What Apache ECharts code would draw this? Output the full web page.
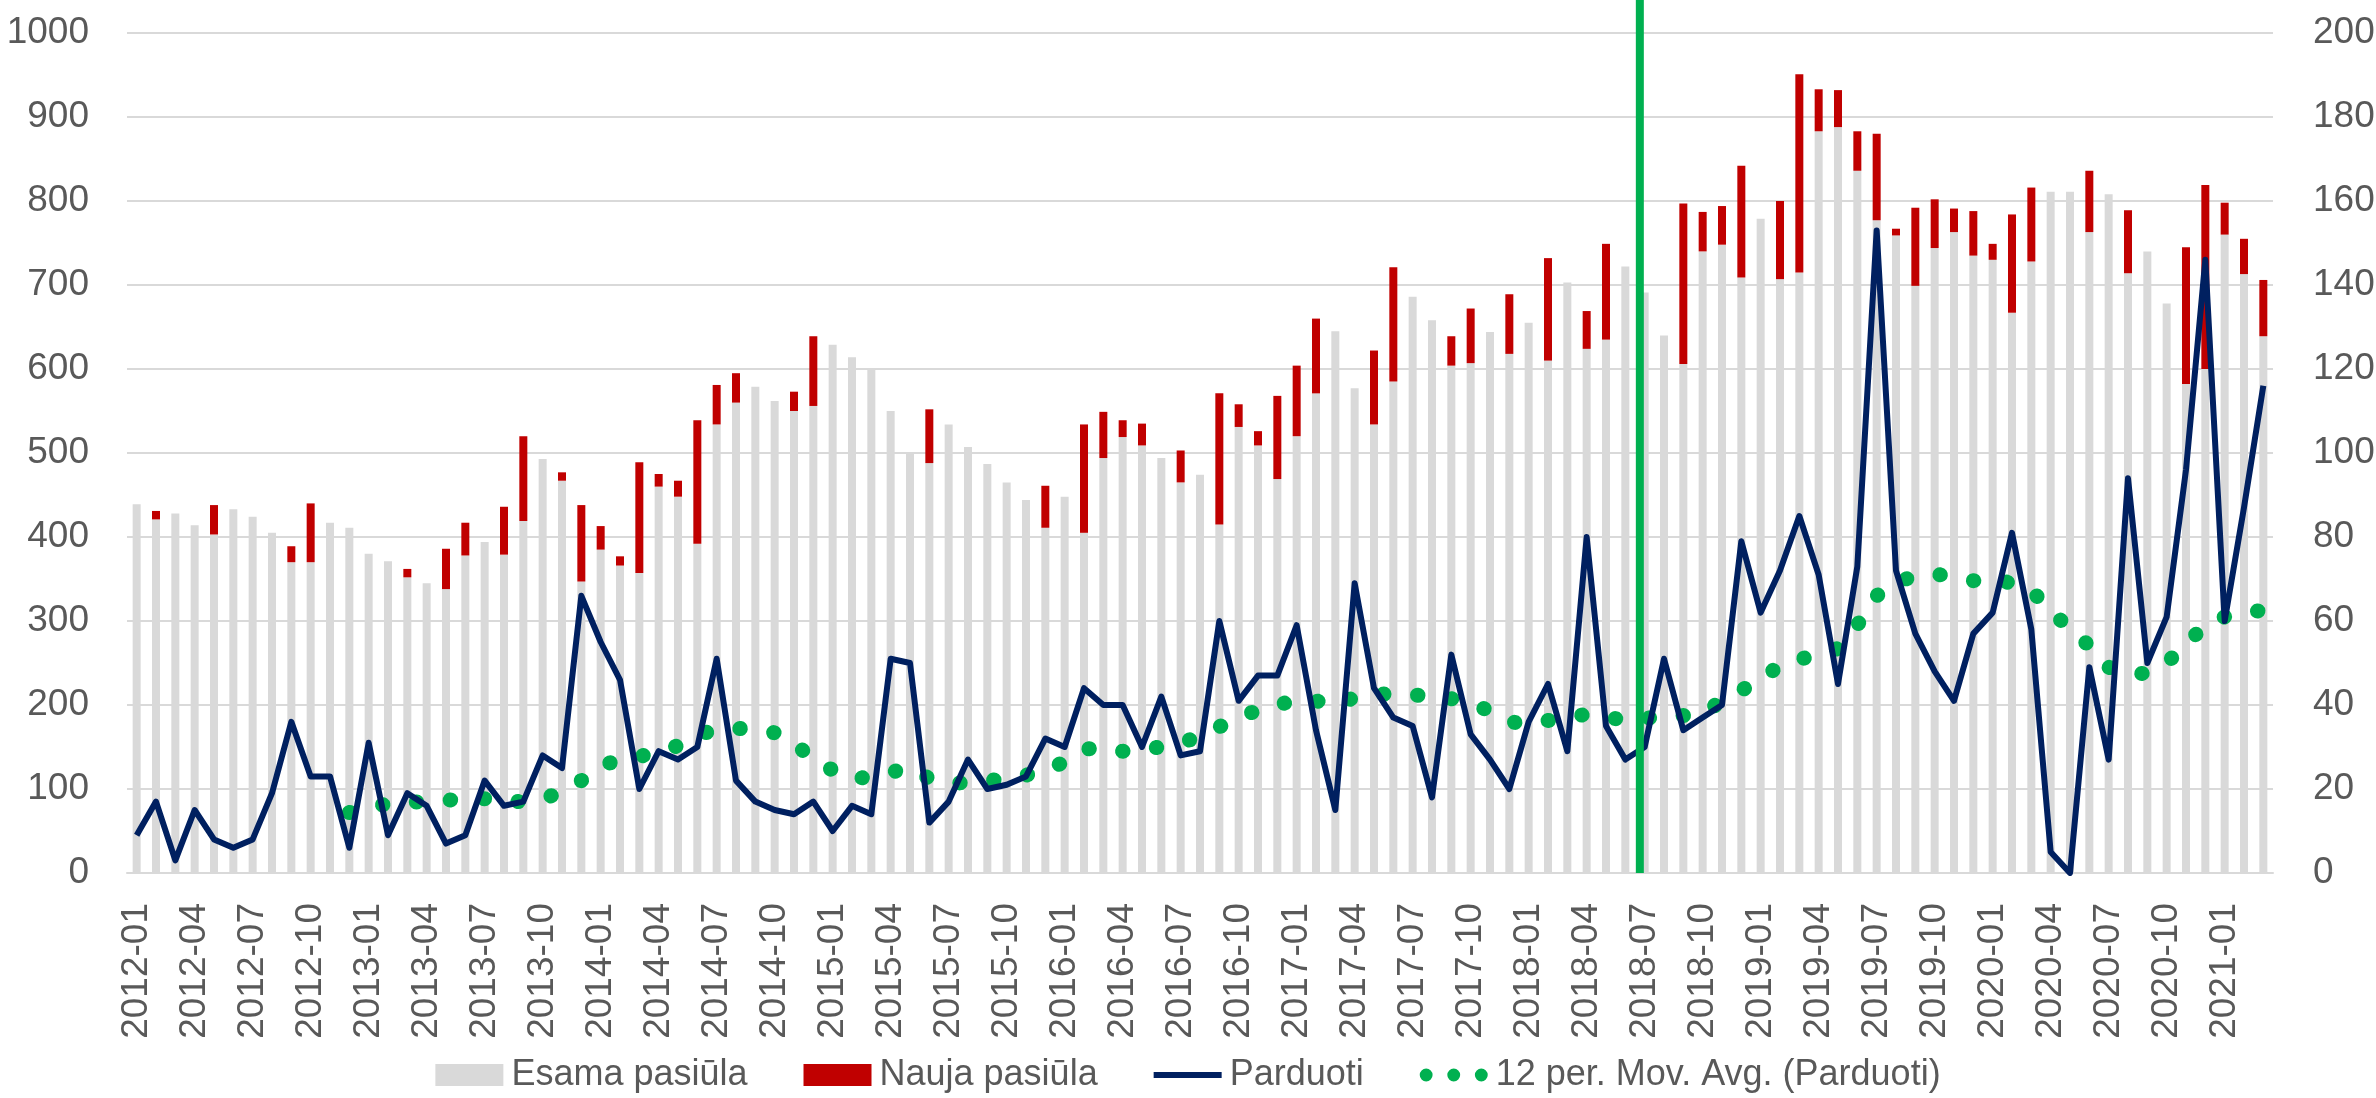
<!DOCTYPE html>
<html>
<head>
<meta charset="utf-8">
<script src="https://cdn.jsdelivr.net/npm/echarts@6/dist/echarts.min.js"></script>
<style>
html,body{margin:0;padding:0;background:#fff;}
#chart{width:2376px;height:1098px;}
</style>
</head>
<body>
<div id="chart"></div>
<script>
var months = [
	'2012-01','2012-02','2012-03','2012-04','2012-05','2012-06','2012-07','2012-08','2012-09','2012-10','2012-11','2012-12',
	'2013-01','2013-02','2013-03','2013-04','2013-05','2013-06','2013-07','2013-08','2013-09','2013-10','2013-11','2013-12',
	'2014-01','2014-02','2014-03','2014-04','2014-05','2014-06','2014-07','2014-08','2014-09','2014-10','2014-11','2014-12',
	'2015-01','2015-02','2015-03','2015-04','2015-05','2015-06','2015-07','2015-08','2015-09','2015-10','2015-11','2015-12',
	'2016-01','2016-02','2016-03','2016-04','2016-05','2016-06','2016-07','2016-08','2016-09','2016-10','2016-11','2016-12',
	'2017-01','2017-02','2017-03','2017-04','2017-05','2017-06','2017-07','2017-08','2017-09','2017-10','2017-11','2017-12',
	'2018-01','2018-02','2018-03','2018-04','2018-05','2018-06','2018-07','2018-08','2018-09','2018-10','2018-11','2018-12',
	'2019-01','2019-02','2019-03','2019-04','2019-05','2019-06','2019-07','2019-08','2019-09','2019-10','2019-11','2019-12',
	'2020-01','2020-02','2020-03','2020-04','2020-05','2020-06','2020-07','2020-08','2020-09','2020-10','2020-11','2020-12',
	'2021-01','2021-02','2021-03'
];

// esama pasiula (pilka)
var esama = [
	439,421,428,414,403,433,424,405,370,370,417,411,
	380,371,352,345,338,378,394,379,419,493,467,347,
	385,366,357,460,448,392,534,560,579,562,550,556,
	629,614,600,550,499,488,534,507,487,465,444,411,
	448,405,494,519,509,494,465,474,415,531,509,469,
	520,571,645,577,534,585,686,658,604,607,644,618,
	655,610,703,624,635,722,691,640,606,740,748,709,
	779,707,715,883,888,836,777,759,699,744,763,735,
	730,667,728,811,811,763,808,714,740,678,582,600,
	760,713,639
];

// nauja pasiula (raudona)
var nauja = [
	0,10,0,0,35,0,0,0,19,70,0,0,
	0,0,10,0,48,39,0,57,101,0,10,91,
	28,11,132,15,19,147,47,35,0,0,23,83,
	0,0,0,0,0,64,0,0,0,0,0,50,
	0,129,55,20,26,0,38,0,156,27,17,99,
	84,89,0,0,88,136,0,0,35,65,0,71,
	0,122,0,45,114,0,0,0,191,47,46,133,
	0,93,236,50,44,47,103,8,93,58,28,53,
	19,117,88,0,0,73,0,75,0,0,163,219,
	38,42,67
];

var parduoti = [
	9,17,3,15,8,6,8,19,36,23,23,6,
	31,9,19,16,7,9,22,16,17,28,25,66,
	55,46,20,29,27,30,51,22,17,15,14,17,
	10,16,14,51,50,12,17,27,20,21,23,32,
	30,44,40,40,30,42,28,29,60,41,47,47,
	59,34,15,69,44,37,35,18,52,33,27,20,
	36,45,29,80,35,27,30,51,34,37,40,79,
	62,72,85,71,45,73,153,72,57,48,41,57,
	62,81,58,5,0,49,27,94,50,61,96,146,
	60,87,116
];

// 12 men. slenkamasis vidurkis, nuskaitytas nuo grafiko
var slenkVid = [
	null,null,null,null,null,null,null,null,null,null,null,14.4,
	15.5,16.5,16.9,16.9,17.3,17.7,17.7,17.6,16.8,17.5,19.5,22,
	25.5,27,27.7,29,30.3,33,34,34.5,34,33.4,31,27,
	24.5,22.3,23,24,25,22.5,21.4,21.5,22,22.4,23.3,24.3,
	26.5,29.5,29.8,29,29.2,30.1,31,32.5,34.8,37,38.8,40,
	41.2,41,40,41.8,42.6,42.6,42.4,42.1,41.5,40.3,38.6,36,
	35.5,36.3,37,37.8,37,36.5,36.8,37.3,37.5,38,41,43.5,
	46,49.5,51,51.7,53.5,59,66,69.5,70.5,71.2,70.5,69.6,
	70,69,67.5,62,58.5,54,49,47.2,47.6,50,54.5,59,
	61,62.1,62.5
];

// zalia linija tarp 2018-06 ir 2018-07 (arciau 2018-07)
var markPrev = '2018-06';
var markMonth = '2018-07';

var fontFam = '"Liberation Sans",Arial,sans-serif';
var axisSize = 37;
var legSize = 36;
var txtColor = '#595959';

// legendos ikonos
var lineIcon = 'path://M0,0H68V6H0Z';
var dotsIcon = 'path://M0,7a7,7 0 1,0 14,0a7,7 0 1,0 -14,0Z' +
	'M30,7a7,7 0 1,0 14,0a7,7 0 1,0 -14,0Z' +
	'M60,7a7,7 0 1,0 14,0a7,7 0 1,0 -14,0Z';

var myChart = echarts.init(document.getElementById('chart'));

var option = {
	animation: false,
	backgroundColor: '#fff',
	textStyle: { fontFamily: fontFam },
	grid: { left: 127, right: 103, top: 33, bottom: 225, outerBoundsMode: 'none' },
	legend: {
		bottom: 0,
		left: 'center',
		itemWidth: 68,
		itemHeight: 22,
		itemGap: 56,
		textStyle: { fontSize: legSize, color: txtColor, fontFamily: fontFam, padding: [0, 0, 0, 3] },
		data: [
			{ name: 'Esama pasiūla', icon: 'rect' },
			{ name: 'Nauja pasiūla', icon: 'rect' },
			{ name: 'Parduoti', icon: lineIcon },
			{ name: '12 per. Mov. Avg. (Parduoti)', icon: dotsIcon }
		]
	},
	xAxis: {
		type: 'category',
		data: months,
		axisLine: { lineStyle: { color: '#d9d9d9', width: 2 } },
		axisTick: { interval: 2, length: 13, lineStyle: { color: '#d9d9d9', width: 2 } },
		axisLabel: {
			interval: 2,
			rotate: 90,
			margin: 30,
			fontSize: axisSize,
			color: txtColor,
			fontFamily: fontFam
		}
	},
	yAxis: [{
		type: 'value',
		min: 0, max: 1000, interval: 100,
		axisLine: { show: false },
		axisTick: { show: false },
		splitLine: { lineStyle: { color: '#d9d9d9', width: 2 } },
		axisLabel: {
			fontSize: axisSize, color: txtColor, margin: 38, fontFamily: fontFam,
			formatter: function(v){ return String(v); }
		}
	}, {
		type: 'value',
		min: 0, max: 200, interval: 20,
		axisLine: { show: false },
		axisTick: { show: false },
		splitLine: { show: false },
		axisLabel: {
			fontSize: axisSize, color: txtColor, margin: 40, fontFamily: fontFam,
			formatter: function(v){ return String(v); }
		}
	}],
	series: [{
		name: 'Esama pasiūla',
		type: 'bar',
		stack: 'pasiula',
		barWidth: 8,
		itemStyle: { color: '#d9d9d9' },
		data: esama
	}, {
		name: 'Nauja pasiūla',
		type: 'bar',
		stack: 'pasiula',
		barWidth: 8,
		itemStyle: { color: '#c00000' },
		data: nauja
	}, {
		name: 'Parduoti',
		type: 'line',
		yAxisIndex: 1,
		symbol: 'none',
		lineStyle: { color: '#002060', width: 6, join: 'round' },
		itemStyle: { color: '#002060' },
		data: parduoti,
		z: 5
	}, {
		name: '12 per. Mov. Avg. (Parduoti)',
		type: 'line',
		yAxisIndex: 1,
		symbol: 'none',
		lineStyle: { color: '#00b050', width: 15, type: [0.5, 33.5], cap: 'round' },
		itemStyle: { color: '#00b050' },
		data: slenkVid,
		z: 4
	}]
};

myChart.setOption(option);

// zalia vertikali linija
var xA = myChart.convertToPixel({ xAxisIndex: 0 }, markPrev);
var xB = myChart.convertToPixel({ xAxisIndex: 0 }, markMonth);
var xPix = (xA + 3 * xB) / 4;
var yBottom = myChart.convertToPixel({ yAxisIndex: 0 }, 0);
myChart.setOption({
	graphic: [{
		type: 'line',
		z: 100,
		shape: { x1: xPix, y1: 0, x2: xPix, y2: yBottom },
		style: { stroke: '#00b050', lineWidth: 8 }
	}]
});
</script>
</body>
</html>
